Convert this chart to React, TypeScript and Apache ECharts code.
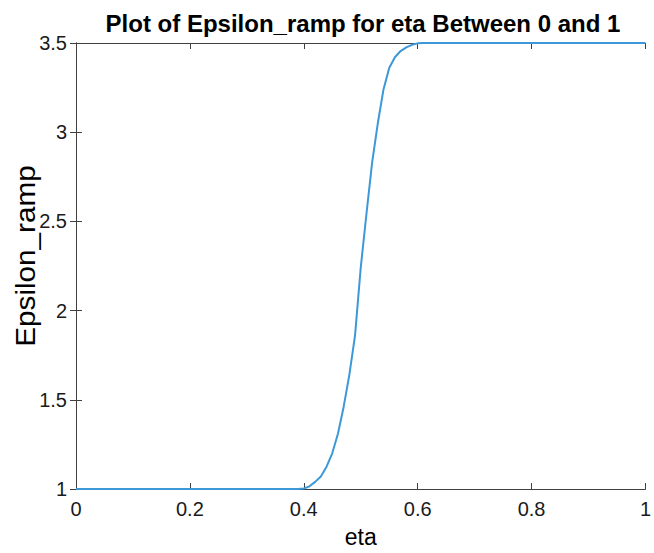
import React, { useEffect, useRef } from "react";
import * as echarts from "echarts";

const etaValues = [0, 0.39, 0.4, 0.41, 0.42, 0.43, 0.44, 0.45, 0.46, 0.47, 0.48, 0.49, 0.5, 0.51, 0.52, 0.53, 0.54, 0.55, 0.56, 0.57, 0.58, 0.59, 0.6, 0.61, 1];
const epsValues = [1, 1, 1.003, 1.015, 1.04, 1.07, 1.125, 1.2, 1.31, 1.46, 1.64, 1.86, 2.24, 2.54, 2.83, 3.05, 3.24, 3.36, 3.42, 3.455, 3.475, 3.49, 3.498, 3.5, 3.5];

const titleText = "Plot of Epsilon_ramp for eta Between 0 and 1";
const xName = "eta";
const yName = "Epsilon_ramp";

const FONT = "'Liberation Sans', Arial, Helvetica, sans-serif";
const AXIS_COLOR = "#404040";

export default function App() {
  const ref = useRef<HTMLDivElement>(null);
  useEffect(() => {
    document.body.style.margin = "0";
    if (!ref.current) return;
    const chart = echarts.init(ref.current, undefined, { renderer: "svg" });
    const axisCommon = {
      axisLine: { show: true, lineStyle: { color: AXIS_COLOR, width: 1 } },
      axisTick: { show: true, inside: true, length: 6, lineStyle: { color: AXIS_COLOR, width: 1 } },
      splitLine: { show: false },
    };
    chart.setOption({
      animation: false,
      backgroundColor: "#ffffff",
      grid: { left: 76, right: 8, top: 43, bottom: 61, containLabel: false },
      graphic: [
        {
          type: "text",
          x: 363,
          y: 23,
          style: {
            text: titleText,
            font: `bold 24px ${FONT}`,
            fill: "#000000",
            textAlign: "center",
            textVerticalAlign: "middle",
          },
        },
        {
          type: "text",
          x: 25,
          y: 256,
          rotation: Math.PI / 2,
          scaleX: 1.06,
          style: {
            text: yName,
            font: `28px ${FONT}`,
            fill: "#000000",
            textAlign: "center",
            textVerticalAlign: "middle",
          },
        },
      ],
      xAxis: [
        {
          type: "value",
          min: 0,
          max: 1,
          interval: 0.2,
          position: "bottom",
          name: xName,
          nameLocation: "middle",
          nameGap: 36,
          nameTextStyle: { fontFamily: FONT, fontSize: 23, color: "#000" },
          axisLabel: { fontFamily: FONT, fontSize: 20, color: "#1a1a1a", margin: 10 },
          ...axisCommon,
        },
        {
          type: "value",
          min: 0,
          max: 1,
          interval: 0.2,
          position: "top",
          axisLabel: { show: false },
          ...axisCommon,
        },
      ],
      yAxis: [
        {
          type: "value",
          min: 1,
          max: 3.5,
          interval: 0.5,
          position: "left",
          axisLabel: { fontFamily: FONT, fontSize: 20, color: "#1a1a1a", margin: 9 },
          ...axisCommon,
        },
        {
          type: "value",
          min: 1,
          max: 3.5,
          interval: 0.5,
          position: "right",
          axisLabel: { show: false },
          ...axisCommon,
        },
      ],
      series: [
        {
          type: "line",
          data: etaValues.map((x, i) => [x, epsValues[i]]),
          showSymbol: false,
          smooth: false,
          clip: false,
          lineStyle: { color: "#3d98d8", width: 2 },
          z: 5,
        },
      ],
    });
    return () => chart.dispose();
  }, []);
  return <div ref={ref} style={{ width: 654, height: 553 }} />;
}
